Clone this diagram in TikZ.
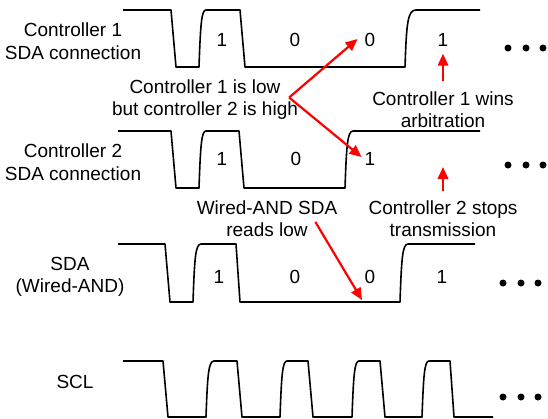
\documentclass[tikz,border=0pt]{standalone}
\usepackage{fontspec}
\setmainfont{Liberation Sans}
\usetikzlibrary{arrows.meta,positioning}
\definecolor{cNote}{HTML}{FF0000}
\tikzset{wire/.style={line width=1.6pt,line join=round},
  lbl/.style={font=\fontsize{19}{22.5}\selectfont,align=center,inner sep=0pt},
  bit/.style={font=\fontsize{19}{22.5}\selectfont,inner sep=0pt},
  note/.style={cNote,line width=2.2pt,-{Triangle[length=12pt,width=10.5pt]}}}
% rising edge: current point is (#1,low), ends on the high level #3 at x=#2
\newcommand{\up}[3]{.. controls (#1+1.5,#3+14) and (#1+2.5,#3) .. (#2,#3)}

\begin{document}
\begin{tikzpicture}[x=1pt,y=-1pt]
  \useasboundingbox (0,0) rectangle (548,418);
  \draw[wire] (123,10) -- (171,10) -- (176,67) -- (199,67) \up{199}{206}{10} -- (240,10) -- (245,67) -- (405,67) \up{405}{416}{10} -- (480,10);
  \draw[wire] (118,131) -- (171,131) -- (176,188) -- (199,188) \up{199}{206}{131} -- (239,131) -- (244,188) -- (345,188) \up{345}{353}{131} -- (480,131);
  \draw[wire] (118,244) -- (165,244) -- (170,302) -- (193,302) \up{193}{201}{244} -- (236,244) -- (240,302) -- (400,302) \up{400}{408}{244} -- (475,244);
  \draw[wire] (123,361) -- (163,361) -- (168,417) -- (206,417) \up{206}{214}{361} -- (237,361) -- (242,417) -- (280,417) \up{280}{287}{361} -- (308,361) -- (313,417) -- (352,417) \up{352}{359}{361} -- (380,361) -- (385,417) -- (422,417) \up{422}{429}{361} -- (450,361) -- (454,417) -- (493,417);
  \foreach \n/\x/\y/\b in {a1/222/40/1, a2/295/40/0, a3/370/40/0, a4/443/40/1, b1/222/159/1, b2/296/159/0, b3/370/159/1, s1/219/277/1, s2/295/277/0, s3/370/277/0, s4/442/277/1}
    \node[bit] (\n) at (\x,\y) {\b};
  \foreach \x in {508,526,543} { \fill (\x,48) circle (3.5pt); \fill (\x,165) circle (3.5pt); }
  \foreach \x in {503,521,538} { \fill (\x,283) circle (3.5pt); \fill (\x,397) circle (3.5pt); }
  \node[lbl] (ctlA) at (73,41) {Controller 1\\SDA connection};
  \node[lbl] (ctlB) at (73,162) {Controller 2\\SDA connection};
  \node[lbl] (sda) at (70,277) {SDA\\(Wired-AND)};
  \node[lbl] (scl) at (75,382) {SCL};
  \node[lbl] (conflict) at (205,99.5) {Controller 1 is low\\but controller 2 is high};
  \node[lbl] (wins) at (443,109.5) {Controller 1 wins\\arbitration};
  \node[lbl] (wand) at (267,218.5) {Wired-AND SDA\\reads low};
  \node[lbl] (stops) at (443,218.5) {Controller 2 stops\\transmission};
  \coordinate (fork) at ([xshift=-9pt,yshift=2pt]conflict.east);
  \coordinate (lost) at (443,167);
  \coordinate (readLow) at (362,300);
  \draw[note] (fork) -- ([xshift=-7pt,yshift=1pt]a3.west);
  \draw[note] (fork) -- ([shift={(-3,-2)}]b3.west);
  \draw[note,shorten <=10pt,shorten >=7pt] (wins.north) -- (a4.south);
  \draw[note,shorten <=9pt] (stops.north) -- (lost);
  \draw[note] ([shift={(-22,3.5)}]wand.east) -- (readLow);
\end{tikzpicture}
\end{document}
